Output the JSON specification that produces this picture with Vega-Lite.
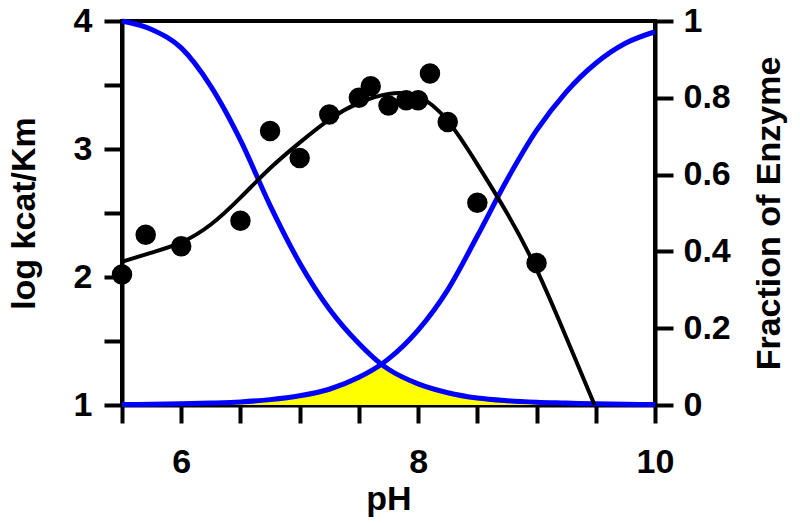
{
  "$schema": "https://vega.github.io/schema/vega-lite/v6.json",
  "width": 533,
  "height": 384,
  "autosize": "none",
  "padding": {"left": 122, "top": 21, "right": 145, "bottom": 118},
  "background": "white",
  "config": {
    "view": {"stroke": "black", "strokeWidth": 4},
    "axis": {
      "grid": false,
      "domainColor": "black",
      "domainWidth": 4,
      "tickColor": "black",
      "tickWidth": 4,
      "tickSize": 18,
      "labelFont": "Liberation Sans",
      "labelFontWeight": "bold",
      "labelFontSize": 34,
      "labelColor": "black",
      "titleFont": "Liberation Sans",
      "titleFontWeight": "bold",
      "titleFontSize": 34,
      "titleColor": "black",
      "labelOverlap": false,
      "labelFlush": false
    }
  },
  "datasets": {
    "frac": [
      {"pH": 5.5, "D": 1.0, "A": 0.001, "Y": 0.001},
      {"pH": 5.75, "D": 0.978, "A": 0.002, "Y": 0.002},
      {"pH": 6.0, "D": 0.93, "A": 0.003, "Y": 0.003},
      {"pH": 6.25, "D": 0.83, "A": 0.005, "Y": 0.005},
      {"pH": 6.5, "D": 0.69, "A": 0.008, "Y": 0.008},
      {"pH": 6.75, "D": 0.52, "A": 0.014, "Y": 0.014},
      {"pH": 7.0, "D": 0.37, "A": 0.024, "Y": 0.024},
      {"pH": 7.25, "D": 0.25, "A": 0.041, "Y": 0.041},
      {"pH": 7.5, "D": 0.16, "A": 0.072, "Y": 0.072},
      {"pH": 7.69, "D": 0.106, "A": 0.106, "Y": 0.106},
      {"pH": 7.75, "D": 0.093, "A": 0.12, "Y": 0.093},
      {"pH": 8.0, "D": 0.055, "A": 0.195, "Y": 0.055},
      {"pH": 8.25, "D": 0.032, "A": 0.3, "Y": 0.032},
      {"pH": 8.5, "D": 0.018, "A": 0.44, "Y": 0.018},
      {"pH": 8.75, "D": 0.011, "A": 0.586, "Y": 0.011},
      {"pH": 9.0, "D": 0.007, "A": 0.715, "Y": 0.007},
      {"pH": 9.25, "D": 0.005, "A": 0.815, "Y": 0.005},
      {"pH": 9.5, "D": 0.003, "A": 0.89, "Y": 0.003},
      {"pH": 9.75, "D": 0.002, "A": 0.942, "Y": 0.002},
      {"pH": 10.0, "D": 0.001, "A": 0.972, "Y": 0.001}
    ],
    "fit": [
      {"pH": 5.5, "v": 2.12},
      {"pH": 5.75, "v": 2.19},
      {"pH": 6.0, "v": 2.27},
      {"pH": 6.25, "v": 2.41},
      {"pH": 6.5, "v": 2.62},
      {"pH": 6.75, "v": 2.85},
      {"pH": 7.0, "v": 3.05},
      {"pH": 7.25, "v": 3.23},
      {"pH": 7.5, "v": 3.36},
      {"pH": 7.75, "v": 3.43},
      {"pH": 8.0, "v": 3.41},
      {"pH": 8.25, "v": 3.22},
      {"pH": 8.5, "v": 2.88},
      {"pH": 8.75, "v": 2.5},
      {"pH": 9.0, "v": 2.06},
      {"pH": 9.25, "v": 1.53},
      {"pH": 9.49, "v": 1.0}
    ],
    "pts": [
      {"pH": 5.5, "v": 2.02},
      {"pH": 5.7, "v": 2.33},
      {"pH": 6.0, "v": 2.24},
      {"pH": 6.5, "v": 2.44},
      {"pH": 6.75, "v": 3.14},
      {"pH": 7.0, "v": 2.93},
      {"pH": 7.25, "v": 3.27},
      {"pH": 7.5, "v": 3.4},
      {"pH": 7.6, "v": 3.49},
      {"pH": 7.75, "v": 3.34},
      {"pH": 7.9, "v": 3.38},
      {"pH": 8.0, "v": 3.38},
      {"pH": 8.1, "v": 3.59},
      {"pH": 8.25, "v": 3.21},
      {"pH": 8.5, "v": 2.58},
      {"pH": 9.0, "v": 2.11}
    ]
  },
  "layer": [
    {
      "data": {"name": "frac"},
      "layer": [
        {
          "mark": {"type": "area", "color": "#FFFF00", "interpolate": "monotone"},
          "encoding": {
            "x": {
              "field": "pH", "type": "quantitative",
              "scale": {"domain": [5.5, 10], "nice": false, "zero": false},
              "axis": {
                "orient": "bottom",
                "values": [5.5, 6, 6.5, 7, 7.5, 8, 8.5, 9, 9.5, 10],
                "labelExpr": "datum.value % 2 === 0 ? datum.value + '' : ''",
                "encode": {"ticks": {"update": {"y2": {"signal": "datum.value % 2 === 0 ? 18 : 12"}}}},
                "labelPadding": 22,
                "title": "pH",
                "titlePadding": 3
              }
            },
            "y": {
              "field": "Y", "type": "quantitative",
              "scale": {"domain": [0, 1], "nice": false, "zero": false},
              "axis": {
                "orient": "right",
                "values": [0, 0.1, 0.2, 0.3, 0.4, 0.5, 0.6, 0.7, 0.8, 0.9, 1],
                "labelExpr": "round(datum.value * 10) % 2 === 0 ? datum.value + '' : ''",
                "encode": {"ticks": {"update": {"x2": {"signal": "round(datum.value * 10) % 2 === 0 ? 18 : 12"}}}},
                "labelPadding": 10,
                "title": "Fraction of Enzyme",
                "titleAngle": 270,
                "titleBaseline": "top",
                "titlePadding": 22
              }
            }
          }
        },
        {
          "mark": {"type": "line", "color": "#0000FF", "strokeWidth": 5, "interpolate": "monotone"},
          "encoding": {
            "x": {"field": "pH", "type": "quantitative"},
            "y": {"field": "D", "type": "quantitative"}
          }
        },
        {
          "mark": {"type": "line", "color": "#0000FF", "strokeWidth": 5, "interpolate": "monotone"},
          "encoding": {
            "x": {"field": "pH", "type": "quantitative"},
            "y": {"field": "A", "type": "quantitative"}
          }
        }
      ]
    },
    {
      "layer": [
        {
          "data": {"name": "fit"},
          "mark": {"type": "line", "color": "black", "strokeWidth": 4, "interpolate": "natural"},
          "encoding": {
            "x": {"field": "pH", "type": "quantitative"},
            "y": {
              "field": "v", "type": "quantitative",
              "scale": {"domain": [1, 4], "nice": false, "zero": false},
              "axis": {
                "orient": "left",
                "values": [1, 1.5, 2, 2.5, 3, 3.5, 4],
                "labelExpr": "datum.value % 1 === 0 ? datum.value + '' : ''",
                "encode": {"ticks": {"update": {"x2": {"signal": "datum.value % 1 === 0 ? -18 : -12"}}}},
                "labelPadding": 12,
                "title": "log kcat/Km",
                "titlePadding": 32
              }
            }
          }
        },
        {
          "data": {"name": "pts"},
          "mark": {"type": "circle", "color": "black", "opacity": 1, "size": 420},
          "encoding": {
            "x": {"field": "pH", "type": "quantitative"},
            "y": {"field": "v", "type": "quantitative"}
          }
        }
      ]
    }
  ],
  "resolve": {"scale": {"y": "independent"}}
}
